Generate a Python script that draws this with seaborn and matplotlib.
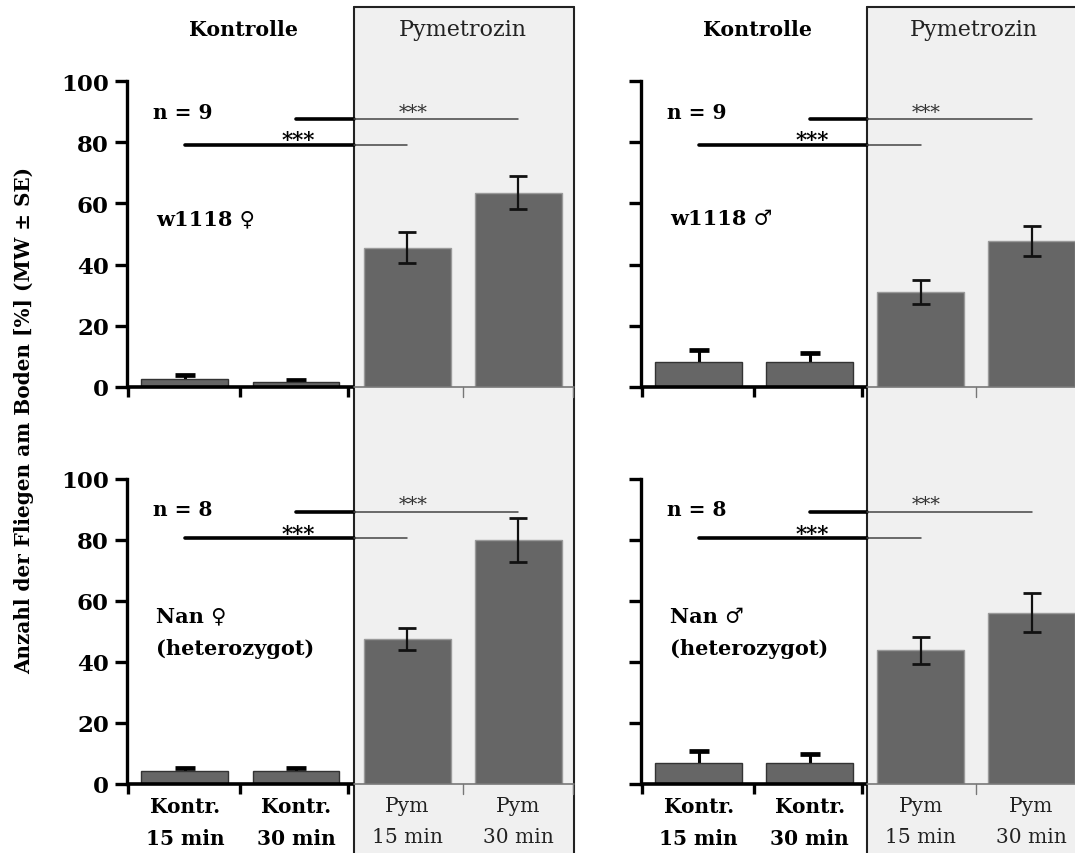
import numpy as np
import pandas as pd
import matplotlib
matplotlib.use("Agg")
import matplotlib.pyplot as plt
import matplotlib.transforms as mtransforms
from matplotlib.patches import Rectangle
from matplotlib.lines import Line2D
import seaborn as sns

sns.set_theme(style="white")
plt.rcParams["font.family"] = ["DejaVu Serif", "DejaVu Sans"]
plt.rcParams["text.color"] = "black"
plt.rcParams["xtick.color"] = "black"
plt.rcParams["ytick.color"] = "black"
plt.rcParams["xtick.labelcolor"] = "black"
plt.rcParams["ytick.labelcolor"] = "black"

# ---- data -------------------------------------------------------------
groups = ["Kontr.\n15 min", "Kontr.\n30 min", "Pym\n15 min", "Pym\n30 min"]
header_labels = ["Kontrolle", "Pymetrozin"]
y_ticks = [0, 20, 40, 60, 80, 100]
y_label = "Anzahl der Fliegen am Boden [%] (MW ± SE)"

strain_labels = ["w1118 ♀", "w1118 ♂", "Nan ♀\n(heterozygot)", "Nan ♂\n(heterozygot)"]
n_labels = ["n = 9", "n = 9", "n = 8", "n = 8"]

w1118_female_mean = [2.5, 1.5, 45.5, 63.5]
w1118_female_se = [1.5, 0.9, 5.1, 5.3]
w1118_male_mean = [8.2, 8.2, 31.0, 47.7]
w1118_male_se = [3.8, 2.8, 4.0, 5.0]
nan_female_mean = [4.3, 4.3, 47.5, 80.0]
nan_female_se = [0.8, 0.8, 3.6, 7.3]
nan_male_mean = [7.0, 7.0, 43.8, 56.2]
nan_male_se = [3.8, 2.9, 4.4, 6.3]

sig_pairs = [(0, 2), (1, 3)]
sig_text = "***"
sig_levels_n9 = [79.0, 87.5]
sig_levels_n8 = [80.5, 89.3]

# ---- style ------------------------------------------------------------
BAR = "#666666"
SHADE = "#f0f0f0"
THIN = "#444444"
XMIN, XMAX = -0.52, 3.5
BOUND = 1.52          # start of the treated (shaded) block in category units

fig = plt.figure(figsize=(10.75, 8.54), dpi=100)
W, H = 1075, 854


def add_axes(px_left, px_top, px_bottom, px_width=447):
    return fig.add_axes([px_left / W, 1 - px_bottom / H,
                         px_width / W, (px_bottom - px_top) / H])


ax_tl = add_axes(127, 82, 388)
ax_bl = add_axes(127, 480, 785)
ax_tr = add_axes(641, 82, 388, 446)
ax_br = add_axes(641, 480, 785, 446)

panels = [
    (ax_tl, w1118_female_mean, w1118_female_se, 0, sig_levels_n9, True, False),
    (ax_tr, w1118_male_mean, w1118_male_se, 1, sig_levels_n9, False, False),
    (ax_bl, nan_female_mean, nan_female_se, 2, sig_levels_n8, True, True),
    (ax_br, nan_male_mean, nan_male_se, 3, sig_levels_n8, False, True),
]

for ax, means, ses, idx, sig_levels, show_y, show_x in panels:
    df = pd.DataFrame({"group": groups, "value": means})
    sns.barplot(data=df, x="group", y="value", order=groups, color=BAR,
                saturation=1, width=0.78, errorbar=None, ax=ax, zorder=3,
                edgecolor="#333333", linewidth=1.0)
    for i, p in enumerate(ax.patches):
        if i >= 2:
            p.set_edgecolor("#9a9a9a")

    x = np.arange(len(groups))
    # control error bars sit behind the bars, treated ones in front
    ax.errorbar(x[:2], means[:2], yerr=ses[:2], fmt="none", ecolor="black",
                elinewidth=2.2, capsize=7, capthick=3.4, zorder=2)
    ax.errorbar(x[2:], means[2:], yerr=ses[2:], fmt="none", ecolor="#111111",
                elinewidth=1.6, capsize=6.5, capthick=2.0, zorder=4)

    ax.set_xlim(XMIN, XMAX)
    ax.set_ylim(0, 100)
    ax.set_facecolor("none")
    for s in ["top", "right", "bottom"]:
        ax.spines[s].set_visible(False)
    ax.spines["left"].set_color("black")
    ax.spines["left"].set_linewidth(2.4)
    ax.spines["left"].set_bounds(0, 100)

    ax.set_yticks(y_ticks)
    ax.tick_params(axis="y", direction="out", length=9, width=2.4,
                   color="black", pad=4, labelsize=16.5, left=True)
    if show_y:
        ax.set_yticklabels([str(t) for t in y_ticks], fontweight="bold")
    else:
        ax.set_yticklabels([])

    ax.set_xticks(x)
    ax.tick_params(axis="x", length=0, pad=9, bottom=False)
    if show_x:
        ax.set_xticklabels(groups, fontsize=14.5, linespacing=1.75)
        for i, lab in enumerate(ax.get_xticklabels()):
            if i < 2:
                lab.set_fontweight("bold")
                lab.set_color("black")
            else:
                lab.set_color("#222222")
    else:
        ax.set_xticklabels([])
    ax.set_xlabel("")
    ax.set_ylabel("")

    # baseline: heavy under the controls, light under the treatment
    ax.plot([XMIN, BOUND], [0, 0], color="black", lw=2.6, clip_on=False,
            zorder=5, solid_capstyle="butt")
    ax.plot([BOUND, XMAX], [0, 0], color="#777777", lw=1.2, clip_on=False,
            zorder=5)
    xt = ax.get_xaxis_transform()
    for bx in [XMIN + 0.012, 0.5, 1.47]:
        ax.plot([bx, bx], [0, -0.034], transform=xt, color="black", lw=2.4,
                clip_on=False, zorder=5, solid_capstyle="butt")
    for bx in [2.5, 3.49]:
        ax.plot([bx, bx], [0, -0.034], transform=xt, color="#777777", lw=1.0,
                clip_on=False, zorder=5)

    # significance brackets
    for (a, b), lvl, k in zip(sig_pairs, sig_levels, range(2)):
        ax.plot([a, BOUND], [lvl, lvl], color="black", lw=2.6, zorder=5,
                solid_capstyle="round")
        ax.plot([BOUND, b], [lvl, lvl], color=THIN, lw=1.1, zorder=5)
        if k == 0:
            ax.text(1.02, lvl + 1.6, sig_text, ha="center", va="center",
                    fontsize=15.5, fontweight="heavy", color="black", zorder=6)
        else:
            ax.text(2.05, lvl + 2.4, sig_text, ha="center", va="center",
                    fontsize=14, color="#333333", zorder=6)

    ax.text(0.058, 0.90, n_labels[idx], transform=ax.transAxes, ha="left",
            va="center", fontsize=14.5, fontweight="bold")
    ax.text(0.065, 0.585, strain_labels[idx], transform=ax.transAxes,
            ha="left", va="top", fontsize=15, fontweight="bold",
            linespacing=1.75)

# treated block: shaded column with a frame reaching up to the header
top_frac = 1 - 8 / H
for ax, pym_x in [(ax_tl, 2.5), (ax_tr, 2.48)]:
    tr = mtransforms.blended_transform_factory(ax.transData, fig.transFigure)
    fig.add_artist(Rectangle((BOUND, 0), XMAX - BOUND, top_frac, transform=tr,
                             facecolor=SHADE, edgecolor="none", zorder=-2))
    for xx in [BOUND, XMAX]:
        fig.add_artist(Line2D([xx, xx], [0, top_frac], transform=tr,
                              color="#222222", lw=1.5, zorder=-1))
    fig.add_artist(Line2D([BOUND, XMAX], [top_frac, top_frac], transform=tr,
                          color="#222222", lw=1.5, zorder=-1))
    fig.text(0.53, 1 - 30 / H, header_labels[0], transform=tr, ha="center",
             va="center", fontsize=14.8, fontweight="bold")
    fig.text(pym_x, 1 - 30 / H, header_labels[1], transform=tr, ha="center",
             va="center", fontsize=16, color="#222222")

fig.text(24 / W, 1 - 420 / H, y_label, rotation=90, ha="center", va="center",
         fontsize=14.4, fontweight="bold")

fig.savefig("out.png", dpi=100)
